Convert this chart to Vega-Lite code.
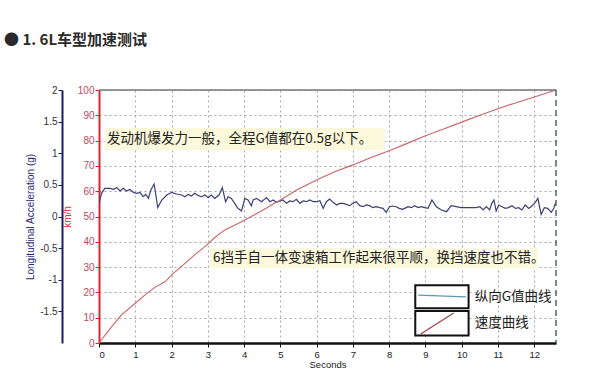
{
  "$schema": "https://vega.github.io/schema/vega-lite/v6.json",
  "width": 457,
  "height": 253,
  "autosize": {"type": "none"},
  "padding": {"left": 99, "top": 90, "right": 44, "bottom": 30},
  "background": "white",
  "config": {"view": {"stroke": null}, "font": "Liberation Sans", "axis": {"labelOverlap": false, "labelFont": "Liberation Sans", "titleFont": "Liberation Sans"}},
  "title": {"text": "●  1. 6L车型加速测试", "anchor": "start", "frame": "group", "dx": -95, "offset": 37, "fontSize": 15, "font": "Noto Sans CJK SC", "fontWeight": "bold", "color": "#2a2a2a"},
  "data": {"values": [{}]},
  "datasets": {
    "accel": [
      {"t": 0, "g": 0.208}, {"t": 0.07, "g": 0.366}, {"t": 0.16, "g": 0.445}, {"t": 0.3, "g": 0.445}, {"t": 0.4, "g": 0.429}, {"t": 0.49, "g": 0.456}, {"t": 0.58, "g": 0.403}, {"t": 0.67, "g": 0.445}, {"t": 0.76, "g": 0.403}, {"t": 0.85, "g": 0.429}, {"t": 0.95, "g": 0.382}, {"t": 1.04, "g": 0.366}, {"t": 1.13, "g": 0.382}, {"t": 1.22, "g": 0.313}, {"t": 1.29, "g": 0.35}, {"t": 1.36, "g": 0.287}, {"t": 1.43, "g": 0.419}, {"t": 1.52, "g": 0.514}, {"t": 1.62, "g": 0.14}, {"t": 1.73, "g": 0.261}, {"t": 1.87, "g": 0.34}, {"t": 2.0, "g": 0.382}, {"t": 2.14, "g": 0.356}, {"t": 2.28, "g": 0.34}, {"t": 2.37, "g": 0.313}, {"t": 2.46, "g": 0.35}, {"t": 2.55, "g": 0.324}, {"t": 2.64, "g": 0.366}, {"t": 2.74, "g": 0.329}, {"t": 2.83, "g": 0.313}, {"t": 2.92, "g": 0.34}, {"t": 3.01, "g": 0.298}, {"t": 3.1, "g": 0.34}, {"t": 3.19, "g": 0.287}, {"t": 3.31, "g": 0.34}, {"t": 3.4, "g": 0.456}, {"t": 3.49, "g": 0.234}, {"t": 3.56, "g": 0.313}, {"t": 3.65, "g": 0.287}, {"t": 3.74, "g": 0.208}, {"t": 3.83, "g": 0.129}, {"t": 3.93, "g": 0.087}, {"t": 4.02, "g": 0.287}, {"t": 4.11, "g": 0.261}, {"t": 4.2, "g": 0.171}, {"t": 4.25, "g": 0.261}, {"t": 4.34, "g": 0.287}, {"t": 4.48, "g": 0.234}, {"t": 4.62, "g": 0.298}, {"t": 4.71, "g": 0.234}, {"t": 4.8, "g": 0.261}, {"t": 4.89, "g": 0.224}, {"t": 4.98, "g": 0.245}, {"t": 5.07, "g": 0.261}, {"t": 5.17, "g": 0.208}, {"t": 5.26, "g": 0.245}, {"t": 5.35, "g": 0.234}, {"t": 5.44, "g": 0.271}, {"t": 5.54, "g": 0.208}, {"t": 5.63, "g": 0.245}, {"t": 5.72, "g": 0.234}, {"t": 5.81, "g": 0.261}, {"t": 5.91, "g": 0.234}, {"t": 6.0, "g": 0.234}, {"t": 6.09, "g": 0.25}, {"t": 6.18, "g": 0.129}, {"t": 6.27, "g": 0.234}, {"t": 6.36, "g": 0.277}, {"t": 6.45, "g": 0.224}, {"t": 6.55, "g": 0.182}, {"t": 6.64, "g": 0.208}, {"t": 6.73, "g": 0.208}, {"t": 6.82, "g": 0.192}, {"t": 6.91, "g": 0.171}, {"t": 7.0, "g": 0.208}, {"t": 7.09, "g": 0.234}, {"t": 7.19, "g": 0.171}, {"t": 7.28, "g": 0.155}, {"t": 7.37, "g": 0.182}, {"t": 7.46, "g": 0.171}, {"t": 7.55, "g": 0.14}, {"t": 7.64, "g": 0.155}, {"t": 7.74, "g": 0.14}, {"t": 7.83, "g": 0.129}, {"t": 7.92, "g": 0.066}, {"t": 8.01, "g": 0.155}, {"t": 8.1, "g": 0.166}, {"t": 8.19, "g": 0.155}, {"t": 8.28, "g": 0.129}, {"t": 8.37, "g": 0.113}, {"t": 8.47, "g": 0.14}, {"t": 8.52, "g": 0.155}, {"t": 8.61, "g": 0.14}, {"t": 8.7, "g": 0.171}, {"t": 8.8, "g": 0.14}, {"t": 8.89, "g": 0.155}, {"t": 8.98, "g": 0.14}, {"t": 9.07, "g": 0.129}, {"t": 9.18, "g": 0.261}, {"t": 9.3, "g": 0.155}, {"t": 9.44, "g": 0.103}, {"t": 9.58, "g": 0.076}, {"t": 9.71, "g": 0.171}, {"t": 9.85, "g": 0.155}, {"t": 9.98, "g": 0.14}, {"t": 10.13, "g": 0.14}, {"t": 10.27, "g": 0.14}, {"t": 10.4, "g": 0.14}, {"t": 10.5, "g": 0.155}, {"t": 10.59, "g": 0.103}, {"t": 10.68, "g": 0.155}, {"t": 10.77, "g": 0.103}, {"t": 10.83, "g": 0.208}, {"t": 10.89, "g": 0.261}, {"t": 10.95, "g": 0.087}, {"t": 11.02, "g": 0.182}, {"t": 11.11, "g": 0.155}, {"t": 11.2, "g": 0.129}, {"t": 11.29, "g": 0.14}, {"t": 11.39, "g": 0.171}, {"t": 11.48, "g": 0.129}, {"t": 11.57, "g": 0.14}, {"t": 11.66, "g": 0.103}, {"t": 11.75, "g": 0.182}, {"t": 11.85, "g": 0.129}, {"t": 11.94, "g": 0.171}, {"t": 12.03, "g": 0.224}, {"t": 12.1, "g": 0.287}, {"t": 12.19, "g": 0.034}, {"t": 12.28, "g": 0.14}, {"t": 12.37, "g": 0.129}, {"t": 12.47, "g": 0.066}, {"t": 12.54, "g": 0.129}, {"t": 12.58, "g": 0.208}
    ],
    "speed": [
      {"t": 0, "v": 0}, {"t": 0.35, "v": 6.5}, {"t": 0.62, "v": 11.1}, {"t": 1.0, "v": 15.7}, {"t": 1.27, "v": 19}, {"t": 1.54, "v": 22}, {"t": 1.82, "v": 24.2}, {"t": 2.05, "v": 27.5}, {"t": 2.37, "v": 31.5}, {"t": 2.64, "v": 34.8}, {"t": 2.92, "v": 38.1}, {"t": 3.2, "v": 41.8}, {"t": 3.47, "v": 44.7}, {"t": 3.75, "v": 46.6}, {"t": 4.02, "v": 48.6}, {"t": 4.3, "v": 50.8}, {"t": 4.57, "v": 53.0}, {"t": 4.85, "v": 55.3}, {"t": 5.0, "v": 56.5}, {"t": 5.45, "v": 60.5}, {"t": 6.0, "v": 64.4}, {"t": 6.5, "v": 67.7}, {"t": 7.0, "v": 70.4}, {"t": 7.45, "v": 73.0}, {"t": 8.0, "v": 76.0}, {"t": 8.5, "v": 78.9}, {"t": 9.0, "v": 81.9}, {"t": 9.5, "v": 84.6}, {"t": 10.0, "v": 87.3}, {"t": 10.5, "v": 90.0}, {"t": 11.0, "v": 92.6}, {"t": 11.5, "v": 95.0}, {"t": 12.0, "v": 97.2}, {"t": 12.3, "v": 98.6}, {"t": 12.6, "v": 100}
    ]
  },
  "layer": [
    {
      "data": {"name": "accel"},
      "mark": {"type": "line", "color": "#3b3f78", "strokeWidth": 1.2, "clip": true},
      "encoding": {
        "x": {"field": "t", "type": "quantitative", "scale": {"domain": [0, 12.6], "nice": false, "zero": false},
          "axis": {"title": "Seconds", "values": [0,1,2,3,4,5,6,7,8,9,10,11,12], "labelOverlap": false, "grid": true, "gridColor": "#a8a8a8", "gridDash": [2, 3], "domainColor": "#111", "domainWidth": 2.5, "tickColor": "#111", "tickSize": 4, "labelFontSize": 9.5, "labelColor": "#222", "labelPadding": 2, "titleFontSize": 9.5, "titleFontWeight": "normal", "titleColor": "#222", "titlePadding": 1}},
        "y": {"field": "g", "type": "quantitative", "scale": {"domain": [-2, 2], "nice": false},
          "axis": {"orient": "left", "offset": 37, "title": "Longitudinal Acceleration (g)", "values": [-1.5, -1, -0.5, 0, 0.5, 1, 1.5, 2], "labelExpr": "'' + datum.value", "grid": false, "domainColor": "#1a1a6e", "domainWidth": 2, "tickColor": "#1a1a6e", "tickSize": 4, "labelColor": "#333", "labelFontSize": 10, "labelPadding": 1, "labelOverlap": false, "titleColor": "#2a2a7a", "titleFontSize": 10, "titleFontWeight": "normal", "titlePadding": 4}}
      }
    },
    {
      "data": {"name": "speed"},
      "mark": {"type": "line", "color": "#cc6464", "strokeWidth": 1.1},
      "encoding": {
        "x": {"field": "t", "type": "quantitative", "scale": {"domain": [0, 12.6], "nice": false, "zero": false}, "axis": null},
        "y": {"field": "v", "type": "quantitative", "scale": {"domain": [0, 100], "nice": false},
          "axis": {"orient": "left", "offset": 0, "title": "km/h", "values": [0,10,20,30,40,50,60,70,80,90,100], "grid": true, "gridColor": "#a8a8a8", "gridDash": [2, 3], "domainColor": "#e02030", "domainWidth": 2, "tickColor": "#e02030", "tickSize": 4, "labelColor": "#c04860", "labelFontSize": 10, "labelPadding": 1, "labelOverlap": false, "titleColor": "#d03040", "titleFontSize": 10, "titleFontWeight": "normal", "titlePadding": 5}}
      }
    },
    {
      "mark": {"type": "rect", "color": "#fbf8dc"},
      "encoding": {"x": {"datum": 0.17, "type": "quantitative", "scale": {"domain": [0, 12.6], "nice": false, "zero": false}, "axis": null}, "x2": {"datum": 7.88}, "y": {"datum": 76.3, "type": "quantitative", "scale": {"domain": [0, 100], "nice": false}, "axis": null}, "y2": {"datum": 85}}
    },
    {
      "mark": {"type": "rect", "color": "#fbf8dc"},
      "encoding": {"x": {"datum": 3.06, "type": "quantitative", "scale": {"domain": [0, 12.6], "nice": false, "zero": false}, "axis": null}, "x2": {"datum": 12.09}, "y": {"datum": 29.6, "type": "quantitative", "scale": {"domain": [0, 100], "nice": false}, "axis": null}, "y2": {"datum": 37.5}}
    },
    {
      "mark": {"type": "rule", "color": "#777", "strokeWidth": 1.5},
      "encoding": {"y": {"datum": 100, "type": "quantitative", "scale": {"domain": [0, 100], "nice": false}, "axis": null}}
    },
    {
      "mark": {"type": "rule", "color": "#2f4f4f", "strokeWidth": 1.3, "strokeDash": [6, 4]},
      "encoding": {"x": {"datum": 12.6, "type": "quantitative", "scale": {"domain": [0, 12.6], "nice": false, "zero": false}, "axis": null}}
    },
    {
      "mark": {"type": "text", "align": "left", "baseline": "middle", "font": "Noto Sans CJK SC", "fontSize": 13.5, "color": "#222", "text": "发动机爆发力一般，全程G值都在0.5g以下。"},
      "encoding": {"x": {"datum": 0.22, "type": "quantitative", "scale": {"domain": [0, 12.6], "nice": false, "zero": false}, "axis": null}, "y": {"datum": 80.5, "type": "quantitative", "scale": {"domain": [0, 100], "nice": false}, "axis": null}}
    },
    {
      "mark": {"type": "text", "align": "left", "baseline": "middle", "font": "Noto Sans CJK SC", "fontSize": 13.5, "color": "#222", "text": "6挡手自一体变速箱工作起来很平顺，换挡速度也不错。"},
      "encoding": {"x": {"datum": 3.14, "type": "quantitative", "scale": {"domain": [0, 12.6], "nice": false, "zero": false}, "axis": null}, "y": {"datum": 33.4, "type": "quantitative", "scale": {"domain": [0, 100], "nice": false}, "axis": null}}
    },
    {
      "mark": {"type": "rect", "fill": "white", "stroke": "#111", "strokeWidth": 2},
      "encoding": {"x": {"datum": 8.72, "type": "quantitative", "scale": {"domain": [0, 12.6], "nice": false, "zero": false}, "axis": null}, "x2": {"datum": 10.19}, "y": {"datum": 13.7, "type": "quantitative", "scale": {"domain": [0, 100], "nice": false}, "axis": null}, "y2": {"datum": 22.8}}
    },
    {
      "mark": {"type": "rect", "fill": "white", "stroke": "#111", "strokeWidth": 2},
      "encoding": {"x": {"datum": 8.72, "type": "quantitative", "scale": {"domain": [0, 12.6], "nice": false, "zero": false}, "axis": null}, "x2": {"datum": 10.19}, "y": {"datum": 3.0, "type": "quantitative", "scale": {"domain": [0, 100], "nice": false}, "axis": null}, "y2": {"datum": 12.6}}
    },
    {
      "mark": {"type": "rule", "color": "#5b9bb0", "strokeWidth": 1.3},
      "encoding": {"x": {"datum": 8.8, "type": "quantitative", "scale": {"domain": [0, 12.6], "nice": false, "zero": false}, "axis": null}, "x2": {"datum": 10.12}, "y": {"datum": 18.9, "type": "quantitative", "scale": {"domain": [0, 100], "nice": false}, "axis": null}, "y2": {"datum": 18.2}}
    },
    {
      "mark": {"type": "rule", "color": "#a0404a", "strokeWidth": 1.2},
      "encoding": {"x": {"datum": 8.87, "type": "quantitative", "scale": {"domain": [0, 12.6], "nice": false, "zero": false}, "axis": null}, "x2": {"datum": 9.78}, "y": {"datum": 3.6, "type": "quantitative", "scale": {"domain": [0, 100], "nice": false}, "axis": null}, "y2": {"datum": 11.9}}
    },
    {
      "mark": {"type": "text", "align": "left", "baseline": "middle", "font": "Noto Sans CJK SC", "fontSize": 13.5, "color": "#222", "text": "纵向G值曲线"},
      "encoding": {"x": {"datum": 10.36, "type": "quantitative", "scale": {"domain": [0, 12.6], "nice": false, "zero": false}, "axis": null}, "y": {"datum": 18.2, "type": "quantitative", "scale": {"domain": [0, 100], "nice": false}, "axis": null}}
    },
    {
      "mark": {"type": "text", "align": "left", "baseline": "middle", "font": "Noto Sans CJK SC", "fontSize": 13.5, "color": "#222", "text": "速度曲线"},
      "encoding": {"x": {"datum": 10.36, "type": "quantitative", "scale": {"domain": [0, 12.6], "nice": false, "zero": false}, "axis": null}, "y": {"datum": 7.9, "type": "quantitative", "scale": {"domain": [0, 100], "nice": false}, "axis": null}}
    }
  ],
  "resolve": {"scale": {"x": "independent", "y": "independent"}, "axis": {"x": "independent", "y": "independent"}}
}
